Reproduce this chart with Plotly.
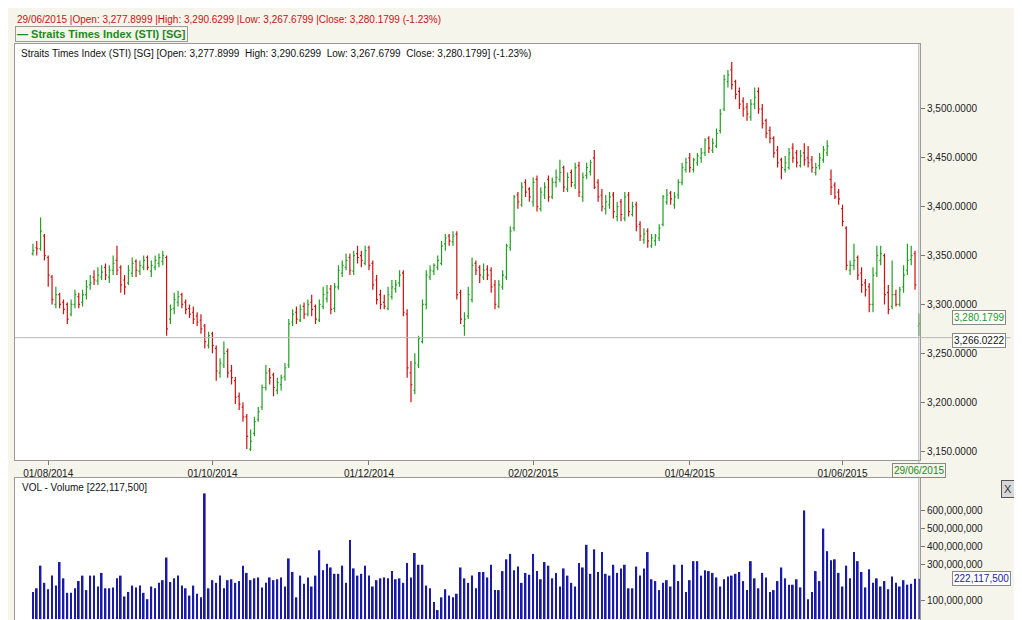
import plotly.graph_objects as go

# daily bars, 28/07/2014 .. 29/06/2015 (trading days only)
opens = [
    3352, 3358, 3357, 3370, 3348, 3328, 3300, 3310, 3302, 3300,
    3290, 3300, 3308, 3302, 3310, 3320, 3328, 3324, 3328, 3338,
    3328, 3335, 3345, 3338, 3325, 3322, 3332, 3344, 3334, 3338,
    3348, 3334, 3338, 3342, 3344, 3348, 3285, 3296, 3302, 3310,
    3302, 3296, 3292, 3288, 3284, 3278, 3258, 3270, 3255, 3230,
    3238, 3252, 3232, 3222, 3206, 3195, 3185, 3152, 3168, 3182,
    3195, 3215, 3232, 3228, 3212, 3218, 3226, 3238, 3282, 3292,
    3284, 3298, 3290, 3302, 3298, 3284, 3298, 3306, 3316, 3296,
    3318, 3332, 3338, 3348, 3334, 3352, 3350, 3342, 3358, 3342,
    3325, 3310, 3302, 3296, 3308, 3316, 3322, 3332, 3290, 3230,
    3212, 3238, 3262, 3300, 3328, 3334, 3338, 3342, 3362, 3370,
    3364, 3372, 3312, 3278, 3288, 3305, 3342, 3338, 3328, 3336,
    3335, 3320, 3298, 3318, 3328, 3358, 3378, 3412, 3402, 3425,
    3418, 3405, 3428, 3398, 3412, 3428, 3410, 3425, 3428, 3440,
    3418, 3435, 3422, 3442, 3410, 3432, 3436, 3450, 3425, 3412,
    3398, 3402, 3412, 3390, 3405, 3388, 3412, 3392, 3402, 3382,
    3366, 3375, 3360, 3365, 3368, 3382, 3405, 3414, 3402, 3412,
    3425, 3438, 3450, 3438, 3445, 3450, 3455, 3470, 3458, 3462,
    3478, 3500, 3528, 3540, 3528, 3518, 3508, 3502, 3492, 3505,
    3518, 3500, 3488, 3478, 3470, 3458, 3448, 3438, 3440, 3460,
    3455, 3442, 3455, 3450, 3448, 3435, 3442, 3448, 3455, 3428,
    3422, 3415, 3398, 3378, 3335, 3340, 3348, 3332, 3322, 3318,
    3300, 3332, 3345, 3350, 3312, 3298, 3310, 3300, 3318, 3335,
    3346, 3352, 3277.8999,
]
highs = [
    3362, 3365, 3389, 3372, 3350, 3330, 3318, 3312, 3305, 3302,
    3305, 3315, 3312, 3315, 3325, 3330, 3335, 3338, 3340, 3342,
    3340, 3350, 3360, 3340, 3330, 3340, 3348, 3346, 3345, 3350,
    3350, 3345, 3350, 3352, 3355, 3350, 3300, 3312, 3314, 3312,
    3305, 3300, 3298, 3292, 3290, 3280, 3272, 3272, 3258, 3245,
    3262, 3255, 3238, 3226, 3210, 3200, 3188, 3172, 3185, 3195,
    3218, 3238, 3235, 3230, 3225, 3228, 3240, 3285, 3295, 3298,
    3300, 3302, 3305, 3310, 3300, 3305, 3318, 3320, 3320, 3322,
    3340, 3345, 3352, 3352, 3355, 3360, 3355, 3360, 3360, 3345,
    3330, 3315, 3310, 3318, 3325, 3325, 3335, 3335, 3295, 3242,
    3250, 3268, 3305, 3335, 3340, 3342, 3350, 3365, 3372, 3372,
    3375, 3375, 3315, 3292, 3318, 3348, 3345, 3340, 3342, 3340,
    3338, 3325, 3325, 3335, 3362, 3380, 3412, 3415, 3425, 3428,
    3420, 3430, 3432, 3420, 3425, 3432, 3430, 3438, 3448, 3442,
    3435, 3438, 3445, 3446, 3435, 3445, 3448, 3458, 3428, 3418,
    3412, 3415, 3415, 3405, 3408, 3415, 3415, 3405, 3405, 3385,
    3378, 3378, 3372, 3372, 3382, 3412, 3418, 3416, 3415, 3428,
    3445, 3450, 3455, 3450, 3455, 3460, 3470, 3472, 3470, 3480,
    3500, 3535, 3540, 3548, 3530, 3522, 3512, 3506, 3510, 3522,
    3522, 3505, 3490, 3482, 3472, 3462, 3450, 3452, 3460, 3465,
    3458, 3458, 3465, 3462, 3452, 3445, 3455, 3462, 3468, 3438,
    3425, 3418, 3402, 3380, 3345, 3362, 3350, 3338, 3326, 3322,
    3338, 3360, 3360, 3352, 3320, 3345, 3315, 3318, 3340, 3362,
    3360, 3355, 3290.6299,
]
lows = [
    3350, 3350, 3355, 3345, 3318, 3300, 3296, 3296, 3290, 3280,
    3288, 3296, 3296, 3298, 3305, 3315, 3320, 3320, 3325, 3325,
    3322, 3330, 3330, 3312, 3310, 3320, 3328, 3328, 3330, 3335,
    3335, 3328, 3335, 3338, 3340, 3268, 3280, 3290, 3298, 3296,
    3290, 3286, 3280, 3278, 3270, 3255, 3255, 3250, 3222, 3225,
    3235, 3225, 3218, 3198, 3192, 3180, 3152, 3150, 3165, 3180,
    3192, 3212, 3218, 3206, 3208, 3212, 3222, 3235, 3278, 3280,
    3282, 3285, 3288, 3288, 3280, 3282, 3295, 3302, 3290, 3292,
    3315, 3328, 3335, 3330, 3330, 3342, 3338, 3340, 3335, 3315,
    3300, 3295, 3295, 3294, 3305, 3312, 3318, 3288, 3225, 3200,
    3208, 3235, 3260, 3295, 3325, 3330, 3335, 3340, 3355, 3360,
    3360, 3305, 3280, 3268, 3285, 3302, 3330, 3322, 3325, 3325,
    3312, 3295, 3296, 3315, 3325, 3355, 3375, 3398, 3400, 3410,
    3405, 3400, 3395, 3395, 3408, 3405, 3408, 3420, 3425, 3415,
    3415, 3420, 3418, 3410, 3405, 3428, 3432, 3418, 3405, 3395,
    3392, 3398, 3388, 3385, 3385, 3385, 3390, 3390, 3375, 3365,
    3362, 3358, 3358, 3360, 3365, 3380, 3402, 3402, 3398, 3408,
    3422, 3435, 3435, 3435, 3442, 3445, 3452, 3455, 3455, 3460,
    3475, 3498, 3522, 3520, 3510, 3500, 3492, 3488, 3488, 3500,
    3495, 3480, 3470, 3465, 3450, 3440, 3428, 3435, 3438, 3445,
    3440, 3440, 3442, 3440, 3435, 3432, 3438, 3445, 3452, 3412,
    3408, 3402, 3380, 3335, 3330, 3335, 3325, 3312, 3308, 3292,
    3292, 3328, 3340, 3300, 3290, 3295, 3298, 3298, 3312, 3330,
    3340, 3315, 3267.6799,
]
closes = [
    3355, 3357, 3375, 3350, 3330, 3305, 3310, 3300, 3295, 3285,
    3300, 3310, 3300, 3310, 3318, 3322, 3325, 3330, 3333, 3330,
    3335, 3342, 3335, 3320, 3318, 3335, 3342, 3335, 3340, 3345,
    3338, 3340, 3345, 3348, 3350, 3275, 3295, 3305, 3308, 3300,
    3295, 3290, 3285, 3282, 3275, 3262, 3268, 3258, 3232, 3240,
    3250, 3230, 3225, 3205, 3198, 3185, 3165, 3160, 3180, 3190,
    3215, 3230, 3225, 3215, 3220, 3225, 3235, 3280, 3290, 3285,
    3295, 3290, 3300, 3295, 3285, 3300, 3310, 3312, 3295, 3318,
    3335, 3340, 3345, 3335, 3350, 3348, 3345, 3355, 3340, 3320,
    3305, 3300, 3298, 3310, 3318, 3320, 3330, 3292, 3235, 3218,
    3240, 3265, 3300, 3330, 3335, 3340, 3345, 3360, 3368, 3365,
    3370, 3310, 3285, 3285, 3310, 3340, 3335, 3330, 3335, 3330,
    3318, 3300, 3320, 3330, 3360, 3375, 3410, 3405, 3420, 3415,
    3410, 3425, 3400, 3415, 3420, 3410, 3425, 3430, 3435, 3420,
    3430, 3425, 3440, 3415, 3430, 3440, 3445, 3420, 3410, 3400,
    3405, 3410, 3395, 3400, 3392, 3410, 3395, 3400, 3380, 3370,
    3372, 3365, 3368, 3370, 3378, 3410, 3412, 3408, 3410, 3425,
    3440, 3445, 3440, 3448, 3452, 3455, 3468, 3460, 3465, 3475,
    3495, 3530, 3535, 3525, 3515, 3505, 3500, 3495, 3505, 3512,
    3500, 3485, 3475, 3470, 3455, 3445, 3440, 3445, 3455, 3450,
    3445, 3452, 3448, 3445, 3440, 3440, 3450, 3458, 3462, 3420,
    3410, 3408, 3385, 3340, 3340, 3345, 3330, 3320, 3315, 3300,
    3330, 3350, 3352, 3310, 3295, 3310, 3300, 3315, 3330, 3345,
    3350, 3320, 3280.1799,
]
# volume in millions of shares
volume_m = [
    150, 170, 295, 200, 165, 240, 185, 315, 225, 145,
    145, 170, 210, 240, 160, 240, 240, 180, 255, 170,
    170, 175, 225, 240, 125, 150, 185, 175, 185, 145,
    110, 180, 170, 200, 215, 340, 205, 225, 240, 185,
    170, 130, 185, 140, 120, 694, 170, 215, 200, 240,
    170, 215, 220, 200, 210, 295, 255, 215, 225, 230,
    175, 200, 230, 215, 220, 230, 180, 335, 260, 120,
    240, 195, 230, 180, 240, 380, 270, 305, 285, 250,
    250, 295, 200, 437, 280, 240, 250, 295, 240, 180,
    215, 225, 230, 225, 265, 220, 225, 200, 310, 230,
    365, 300, 300, 185, 170, 95, 50, 120, 165, 130,
    120, 140, 285, 225, 200, 240, 170, 260, 260, 230,
    300, 160, 160, 265, 330, 360, 270, 290, 200, 255,
    245, 360, 265, 220, 315, 295, 225, 255, 180, 280,
    240, 200, 180, 310, 285, 410, 250, 385, 260, 370,
    250, 240, 300, 255, 280, 300, 170, 170, 290, 240,
    280, 370, 220, 210, 160, 200, 215, 180, 300, 210,
    300, 150, 215, 320, 320, 240, 270, 265, 255, 230,
    180, 220, 235, 240, 250, 260, 210, 160, 320, 225,
    170, 255, 230, 150, 160, 210, 285, 225, 190, 190,
    220, 175, 600, 110, 150, 265, 210, 500, 375, 325,
    330, 255, 180, 295, 225, 370, 320, 260, 175, 275,
    200, 225, 180, 210, 165, 235, 200, 180, 215, 190,
    195, 222.1175, 222.1175,
]

tick_idx = [4, 47, 88, 131, 172, 212]
tick_text = ["01/08/2014", "01/10/2014", "01/12/2014", "02/02/2015", "01/04/2015", "01/06/2015"]
price_ticks = [3150, 3200, 3250, 3300, 3350, 3400, 3450, 3500]
vol_ticks = [100, 300, 400, 500, 600]  # 200M hidden behind the last-value box
ref_level = 3266.0222

n = len(closes)
volume_m = volume_m[:n]
idx = list(range(n))
FONT = "Liberation Sans"

fig = go.Figure()
fig.add_trace(go.Ohlc(
    x=idx, open=opens, high=highs, low=lows, close=closes,
    increasing_line_color="#22a022", decreasing_line_color="#cc1111",
    line_width=1.2, tickwidth=0.35, xaxis="x", yaxis="y", hoverinfo="skip",
))
fig.add_trace(go.Bar(
    x=idx, y=[v * 1e6 for v in volume_m], marker_color="#1a1aa8",
    marker_line_width=0, width=0.45, xaxis="x2", yaxis="y2",
))

axis_common = dict(showline=True, linecolor="#9a9a9a", mirror=True, zeroline=False,
                   showgrid=False, ticks="outside", ticklen=4, tickcolor="#777",
                   tickfont=dict(family=FONT, size=10, color="#222"))
fig.update_layout(
    width=1022, height=620, showlegend=False,
    paper_bgcolor="#f6f5ec", plot_bgcolor="#ffffff",
    margin=dict(l=7, r=110, t=0, b=0),
    xaxis=dict(domain=[0, 1], range=[-4.7, 232.3], anchor="y", rangeslider_visible=False,
               tickvals=tick_idx, ticktext=tick_text, **axis_common),
    yaxis=dict(domain=[1 - 452 / 620, 1 - 36 / 620], range=[3140.8, 3566.5], side="right",
               tickvals=price_ticks, tickformat=",.4f", **axis_common),
    xaxis2=dict(domain=[0, 1], range=[-4.7, 232.3], anchor="y2", showticklabels=False,
                **{k: v for k, v in axis_common.items() if k not in ("ticks",)}),
    yaxis2=dict(domain=[1 - 612 / 620, 1 - 470 / 620], range=[-5e6, 779e6], side="right",
                tickvals=[v * 1e6 for v in vol_ticks], tickformat=",d", **axis_common),
)

# cursor lines
fig.add_shape(type="line", xref="x", yref="paper", x0=n - 1, x1=n - 1,
              y0=1 - 612 / 620, y1=1 - 36 / 620, line=dict(color="#b0b0b0", width=1))
fig.add_shape(type="line", xref="paper", yref="y", x0=0, x1=1.1, y0=ref_level, y1=ref_level,
              line=dict(color="#b8b8b8", width=1))

fig.add_annotation(xref="paper", yref="paper", x=0, y=1 - 4 / 620, xanchor="left", yanchor="top",
                   showarrow=False, font=dict(family=FONT, size=10, color="#cc1111"),
                   text="29/06/2015 |Open: 3,277.8999 |High: 3,290.6299 |Low: 3,267.6799 |Close: 3,280.1799 (-1.23%)")
fig.add_annotation(xref="paper", yref="paper", x=0, y=1 - 18 / 620, xanchor="left", yanchor="top",
                   showarrow=False, font=dict(family=FONT, size=11, color="#1a8a1a"),
                   bordercolor="#9a9a9a", borderwidth=1, borderpad=1, bgcolor="#f6f5ec",
                   text="<b>— Straits Times Index (STI) [SG]</b>")
fig.add_annotation(xref="paper", yref="paper", x=0.004, y=1 - 38 / 620, xanchor="left", yanchor="top",
                   showarrow=False, font=dict(family=FONT, size=10, color="#111"),
                   text="Straits Times Index (STI) [SG] [Open: 3,277.8999  High: 3,290.6299  Low: 3,267.6799  Close: 3,280.1799] (-1.23%)")
fig.add_annotation(xref="paper", yref="paper", x=0.006, y=1 - 472 / 620, xanchor="left", yanchor="top",
                   showarrow=False, font=dict(family=FONT, size=10, color="#111"),
                   text="VOL - Volume [222,117,500]")
fig.add_annotation(xref="paper", yref="y", x=1.035, y=closes[-1] + 6, xanchor="left",
                   showarrow=False, font=dict(family=FONT, size=10, color="#1a9a1a"),
                   bgcolor="#ffffff", bordercolor="#888", borderwidth=1, borderpad=1,
                   text=f"{closes[-1]:,.4f}")
fig.add_annotation(xref="paper", yref="y", x=1.035, y=ref_level - 3, xanchor="left",
                   showarrow=False, font=dict(family=FONT, size=10, color="#111"),
                   bgcolor="#ffffff", bordercolor="#888", borderwidth=1, borderpad=1,
                   text=f"{ref_level:,.4f}")
fig.add_annotation(xref="paper", yref="y2", x=1.035, y=volume_m[-1] * 1e6, xanchor="left",
                   showarrow=False, font=dict(family=FONT, size=10, color="#1a1aa8"),
                   bgcolor="#ffffff", bordercolor="#888", borderwidth=1, borderpad=1,
                   text="222,117,500")
fig.add_annotation(xref="x", yref="paper", x=n - 1, y=1 - 455 / 620, yanchor="top",
                   showarrow=False, font=dict(family=FONT, size=10, color="#1a8a1a"),
                   bgcolor="#f6f5ec", bordercolor="#888", borderwidth=1, borderpad=1,
                   text="29/06/2015")
fig.add_annotation(xref="paper", yref="paper", x=1.105, y=1 - 472 / 620, xanchor="right", yanchor="top",
                   showarrow=False, font=dict(family=FONT, size=11, color="#333"),
                   bgcolor="#d8d8d8", bordercolor="#555", borderwidth=1, borderpad=2,
                   text="X")

fig.write_html("out.html")
